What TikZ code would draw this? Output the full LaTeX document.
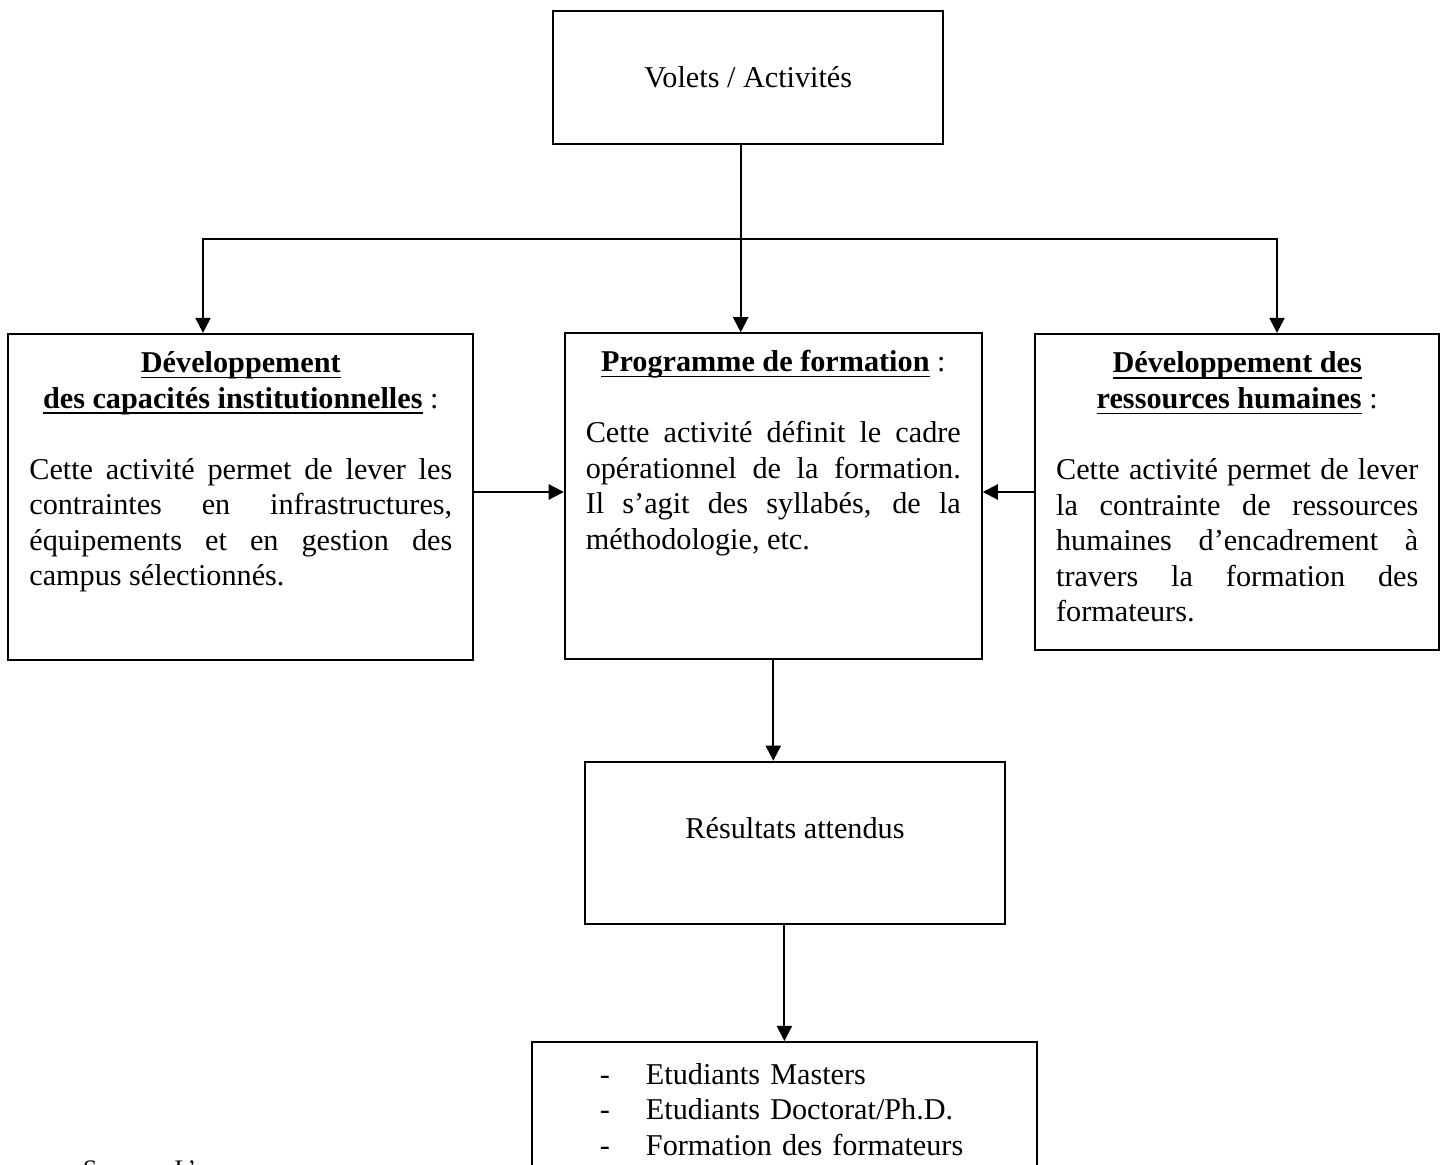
\documentclass[tikz,border=0pt]{standalone}
\usepackage{fontspec}
\setmainfont{Liberation Serif}
\usetikzlibrary{arrows.meta}

\tolerance=10000
\hyphenpenalty=10000
\newcommand{\souligne}[1]{\leavevmode\setbox0\hbox{#1}\rlap{\rule[-2.3pt]{\wd0}{0.7pt}}\box0}

\begin{document}
\begin{tikzpicture}[->,>={Triangle[length=6pt,width=6pt]},x=0.397pt,y=-0.397pt,
  line width=0.8pt,
  main node/.style={rectangle,draw,inner ysep=0pt,
    font=\fontsize{12pt}{14.1pt}\selectfont},
  text node/.style={main node,align=justify,inner xsep=8.3pt}]

  \useasboundingbox (0,0) rectangle (1443,1165);

  \node[main node,minimum width=154.8pt,text height=30.3pt,text depth=22.5pt] (volets) at (748.3,77.5) {Volets / Activités};
  \node[text node,text width=167.9pt,text height=15.4pt,text depth=114.1pt] (capac) at (240.8,497) {%
    {\centering\textbf{\souligne{Développement}}\\
    \textbf{\souligne{des capacités institutionnelles}} :\par}
    \vspace{14.1pt}
    Cette activité permet de lever les\linebreak
    contraintes en infrastructures,\linebreak
    équipements et en gestion des\linebreak
    campus sélectionnés.};
  \node[text node,text width=148.9pt,text height=15.2pt,text depth=114.2pt] (prog) at (773.3,496.3) {%
    {\centering\textbf{\souligne{Programme de formation}} :\par}
    \vspace{14.1pt}
    Cette activité définit le cadre\linebreak
    opérationnel de la formation.\linebreak
    Il s’agit des syllabés, de la\linebreak
    méthodologie, etc.};
  \node[text node,text width=143.8pt,text height=15.5pt,text depth=110pt] (rh) at (1237.2,492) {%
    {\centering\textbf{\souligne{Développement des}}\\
    \textbf{\souligne{ressources humaines}} :\par}
    \vspace{14.1pt}
    Cette activité permet de lever\linebreak
    la contrainte de ressources\linebreak
    humaines d’encadrement à\linebreak
    travers la formation des\linebreak
    formateurs.};
  \node[main node,minimum width=166.7pt,text height=30.4pt,text depth=34pt] (res) at (795,842.85) {Résultats attendus};
  \node[main node,align=left,text width=146.5pt,inner xsep=27pt,text height=16.7pt,text depth=46pt] (bot) at (784.4,1121) {%
    \makebox[18.3pt][l]{-}Etudiants Masters\\
    \makebox[18.3pt][l]{-}Etudiants Doctorat/Ph.D.\\
    \makebox[18.3pt][l]{-}Formation des formateurs};
  \node[font=\fontsize{10pt}{12pt}\selectfont,inner sep=0pt,anchor=base west] (source) at (82,1177) {Source : L’};

  \coordinate (bus) at (740.7,239.3);

  \draw[-] (volets.south -| bus) -- (bus);
  \draw (bus) -| ([xshift=-15pt]capac.north);
  \draw (bus) -| ([xshift=15.8pt]rh.north);
  \path
    (bus) edge (bus |- prog.north)
    (capac.east |- rh.west) edge (prog.west |- rh.west)
    (rh.west) edge (prog.east |- rh.west)
    (prog.south) edge (prog.south |- res.north)
    (res.south -| bot.north) edge (bot.north);
\end{tikzpicture}
\end{document}
